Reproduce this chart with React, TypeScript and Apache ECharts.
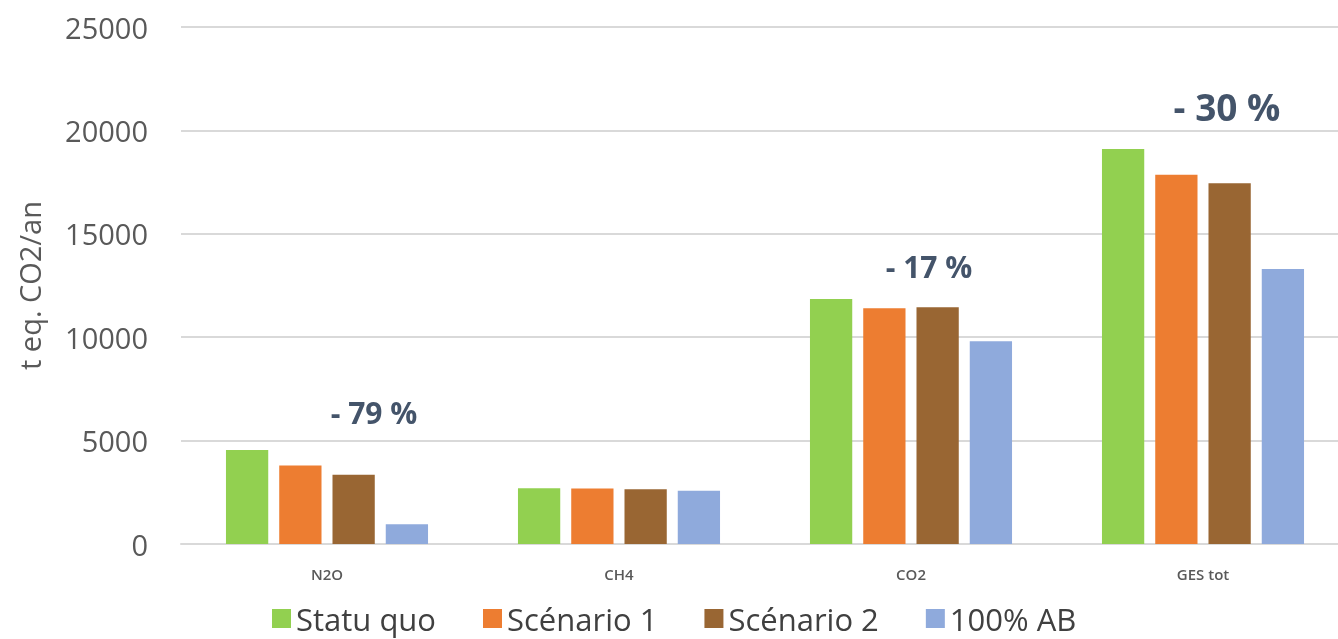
import React, { useEffect, useRef } from "react";
import * as echarts from "echarts";

const categories = ["N2O", "CH4", "CO2", "GES tot"];
const seriesNames = ["Statu quo", "Scénario 1", "Scénario 2", "100% AB"];
const statuQuo = [4550, 2700, 11850, 19100];
const scenario1 = [3800, 2680, 11400, 17850];
const scenario2 = [3350, 2650, 11450, 17450];
const ab100 = [950, 2580, 9800, 13300];
const yTicks = [0, 5000, 10000, 15000, 20000, 25000];
const annotationTexts = ["- 79 %", "- 17 %", "- 30 %"];
const annotationCats = ["N2O", "CO2", "GES tot"];
const annotationValues = [6350, 13400, 21150];

const colors = ["#92D050", "#ED7D31", "#996633", "#8FAADC"];
const annotationFont = [30, 30, 37];
const annotationDx = [47, 18, 24];
const FONT = "'Open Sans', sans-serif";

export default function App() {
  const ref = useRef<HTMLDivElement>(null);
  useEffect(() => {
    if (!ref.current) return;
    const chart = echarts.init(ref.current, undefined, { renderer: "svg" });
    const data = [statuQuo, scenario1, scenario2, ab100];
    chart.setOption({
      animation: false,
      textStyle: { fontFamily: FONT },
      grid: { left: 181, right: 0, top: 27, bottom: 95, containLabel: false },
      legend: {
        data: seriesNames,
        bottom: 0,
        left: 267,
        itemWidth: 19,
        itemHeight: 19,
        itemGap: 47,
        icon: "rect",
        textStyle: { fontSize: 31, color: "#404040", fontFamily: FONT },
      },
      xAxis: {
        type: "category",
        data: categories,
        axisLine: { lineStyle: { color: "#D9D9D9", width: 2 } },
        axisTick: { show: false },
        axisLabel: { fontSize: 15, color: "#595959", fontWeight: 600, margin: 22, fontFamily: FONT },
      },
      yAxis: {
        type: "value",
        min: yTicks[0],
        max: yTicks[yTicks.length - 1],
        interval: 5000,
        name: "t eq. CO2/an",
        nameLocation: "middle",
        nameGap: 137,
        nameTextStyle: { fontSize: 29, color: "#595959", fontFamily: FONT },
        axisLine: { show: false },
        axisTick: { show: false },
        axisLabel: {
          fontSize: 29,
          color: "#595959",
          margin: 33,
          fontFamily: FONT,
          formatter: (v: number) => String(v),
        },
        splitLine: { lineStyle: { color: "#D9D9D9", width: 2 } },
      },
      series: seriesNames.map((name, i) => ({
        name,
        type: "bar",
        data: data[i],
        barGap: "26%",
        barCategoryGap: "30.8%",
        itemStyle: { color: colors[i] },
      })),
    });
    const graphics = annotationTexts.map((t, i) => {
      const x = chart.convertToPixel({ xAxisIndex: 0 }, annotationCats[i]) as number;
      const y = chart.convertToPixel({ yAxisIndex: 0 }, annotationValues[i]) as number;
      return {
        type: "text",
        x: x + annotationDx[i],
        y,
        style: {
          text: t,
          fontSize: annotationFont[i],
          fontWeight: "bold",
          fill: "#44546A",
          fontFamily: FONT,
          align: "center",
          verticalAlign: "middle",
        },
      };
    });
    chart.setOption({ graphic: graphics });
    return () => chart.dispose();
  }, []);
  return (
    <div
      ref={ref}
      style={{ position: "fixed", left: 0, top: 0, width: 1349, height: 639 }}
    />
  );
}
